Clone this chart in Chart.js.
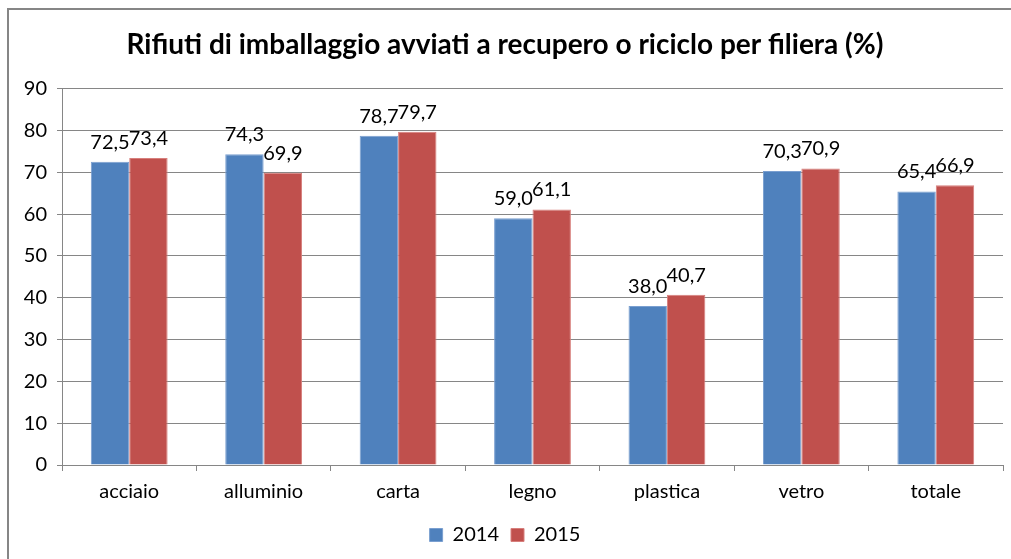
<!DOCTYPE html>
<html>
<head>
<meta charset="utf-8">
<script src="https://cdn.jsdelivr.net/npm/chart.js@4"></script>
<style>
  html, body { margin: 0; padding: 0; background: #fff; }
  #wrap { width: 1011px; height: 559px; }
</style>
</head>
<body>
<div id="wrap"><canvas id="chart" width="1011" height="559"></canvas></div>
<script>
const categories = ["acciaio", "alluminio", "carta", "legno", "plastica", "vetro", "totale"];
const values2014 = [72.5, 74.3, 78.7, 59.0, 38.0, 70.3, 65.4];
const values2015 = [73.4, 69.9, 79.7, 61.1, 40.7, 70.9, 66.9];
const seriesNames = ["2014", "2015"];
const titleText = "Rifiuti di imballaggio avviati a recupero o riciclo per filiera (%)";

const FONT = "Lato, 'Open Sans', 'Noto Sans', sans-serif";
const GRID = "#868686";

// frame around the whole chart (as in the spreadsheet export)
const framePlugin = {
  id: "frame",
  beforeDraw(chart) {
    const ctx = chart.ctx;
    ctx.save();
    ctx.fillStyle = "#fff";
    ctx.fillRect(0, 0, chart.width, chart.height);
    ctx.strokeStyle = GRID;
    ctx.lineWidth = 2;
    ctx.strokeRect(8, 9, 1100, 700);
    ctx.restore();
  }
};

// value labels above each bar, decimal comma
const labelPlugin = {
  id: "barLabels",
  afterDatasetsDraw(chart) {
    const ctx = chart.ctx;
    ctx.save();
    ctx.font = "20px " + FONT;
    ctx.fillStyle = "#000";
    ctx.textAlign = "center";
    ctx.textBaseline = "alphabetic";
    chart.data.datasets.forEach((ds, i) => {
      chart.getDatasetMeta(i).data.forEach((bar, j) => {
        const txt = ds.data[j].toFixed(1).replace(".", ",");
        ctx.fillText(txt, bar.x, bar.y - 13);
      });
    });
    ctx.restore();
  }
};

new Chart(document.getElementById("chart"), {
  type: "bar",
  data: {
    labels: categories,
    datasets: [
      {
        label: seriesNames[0],
        data: values2014,
        backgroundColor: "#4F81BD",
        borderColor: "#7a9fd0",
        borderWidth: 1,
        categoryPercentage: 2 / 3.5,
        barPercentage: 1
      },
      {
        label: seriesNames[1],
        data: values2015,
        backgroundColor: "#C0504D",
        borderColor: "#d77f7c",
        borderWidth: 1,
        categoryPercentage: 2 / 3.5,
        barPercentage: 1
      }
    ]
  },
  options: {
    responsive: false,
    animation: false,
    layout: { padding: { left: 7, right: 8, top: 0, bottom: 4 } },
    plugins: {
      title: {
        display: true,
        text: titleText,
        color: "#000",
        font: { family: FONT, size: 28, weight: "bold" },
        padding: { top: 28, bottom: 27 }
      },
      legend: {
        position: "bottom",
        labels: {
          color: "#000",
          font: { family: FONT, size: 20 },
          boxWidth: 13,
          boxHeight: 13,
          padding: 12
        }
      },
      tooltip: { enabled: false }
    },
    scales: {
      x: {
        grid: {
          drawOnChartArea: false,
          drawTicks: true,
          tickLength: 6,
          color: GRID,
          offset: true
        },
        border: { display: true, color: GRID, width: 1 },
        ticks: {
          color: "#000",
          font: { family: FONT, size: 20 },
          padding: 9
        },
        afterFit(scale) { scale.height = 48; }
      },
      y: {
        min: 0,
        max: 90,
        ticks: {
          stepSize: 10,
          color: "#000",
          font: { family: FONT, size: 20 },
          padding: 10
        },
        grid: { color: GRID, tickLength: 5, lineWidth: 1 },
        border: { display: true, color: GRID, width: 1 },
        afterFit(scale) { scale.width = 55; }
      }
    }
  },
  plugins: [framePlugin, labelPlugin]
});
</script>
</body>
</html>
